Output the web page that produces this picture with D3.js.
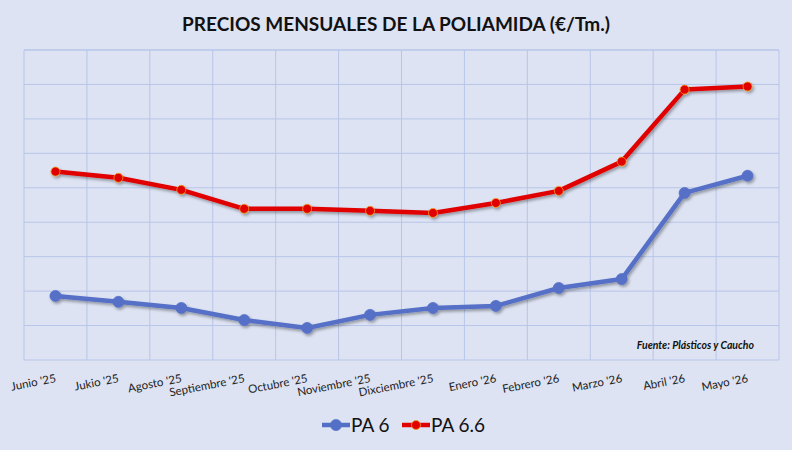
<!DOCTYPE html>
<html><head><meta charset="utf-8">
<script src="https://cdn.jsdelivr.net/npm/d3@7"></script>
<style>body{margin:0;background:#dde3f3;}svg{display:block;font-family:Lato,"Open Sans",sans-serif;}</style>
</head><body><svg id="chart"></svg>
<script>
const months = ["Junio '25","Jukio '25","Agosto '25","Septiembre '25","Octubre '25","Noviembre '25","Dixciembre '25","Enero '26","Febrero '26","Marzo '26","Abril '26","Mayo '26"];
const pa6 = [1.86,1.69,1.51,1.16,0.93,1.31,1.51,1.57,2.09,2.35,4.85,5.35];
const pa66 = [5.47,5.29,4.94,4.39,4.39,4.33,4.27,4.56,4.91,5.76,7.85,7.94];
const yTicks = d3.range(0, 10);

const w = 792, h = 450;
const svg = d3.select("#chart").attr("width", w).attr("height", h);
svg.append("rect").attr("width", w).attr("height", h).attr("fill", "#dde3f3");

const defs = svg.append("defs");
const f = defs.append("filter").attr("id", "sh").attr("x", "-10%").attr("y", "-10%").attr("width", "130%").attr("height", "130%");
f.append("feDropShadow").attr("dx", 1.5).attr("dy", 2).attr("stdDeviation", 1.5).attr("flood-color", "#000").attr("flood-opacity", 0.35);

const x = d3.scaleBand().domain(months).range([24, 779]);
const y = d3.scaleLinear().domain([0, 9]).range([360, 50]);

svg.append("text").attr("x", 396).attr("y", 31).attr("text-anchor", "middle")
  .attr("font-size", 19).attr("font-weight", "bold").attr("fill", "#111")
  .text("PRECIOS MENSUALES DE LA POLIAMIDA (€/Tm.)");

const grid = svg.append("g").attr("stroke", "#b7c5e8").attr("stroke-width", 1);
grid.selectAll(".hy").data(yTicks.concat([9])).enter().append("line")
  .attr("x1", 24).attr("x2", 779).attr("y1", d => y(d)).attr("y2", d => y(d));
const edges = months.map(m => x(m)).concat([779]);
grid.selectAll(".vx").data(edges).enter().append("line")
  .attr("x1", d => d).attr("x2", d => d).attr("y1", 50).attr("y2", 360);

const xAxis = svg.append("g");
months.forEach(m => {
  const cx = x(m) + x.bandwidth() / 2 + 1;
  xAxis.append("text").attr("transform", `translate(${cx},382) rotate(-11)`)
    .attr("text-anchor", "end").attr("font-size", 11.5).attr("fill", "#222").text(m);
});

const line = d3.line().x((d, i) => x(months[i]) + x.bandwidth() / 2).y(d => y(d));
const series = [{v: pa6, c: "#5470c6", r: 5.5, fill: "#5470c6", stroke: "#5470c6"},
                {v: pa66, c: "#e00000", r: 4.5, fill: "#e00000", stroke: "#f39a1e"}];
series.forEach(s => {
  const g = svg.append("g").attr("filter", "url(#sh)");
  g.append("path").datum(s.v).attr("d", line).attr("fill", "none")
    .attr("stroke", s.c).attr("stroke-width", 4.5).attr("stroke-linejoin", "round");
  g.selectAll("circle").data(s.v).enter().append("circle")
    .attr("cx", (d, i) => x(months[i]) + x.bandwidth() / 2).attr("cy", d => y(d))
    .attr("r", s.r).attr("fill", s.fill).attr("stroke", s.stroke).attr("stroke-width", 0.8);
});

svg.append("text").attr("x", 754).attr("y", 349).attr("text-anchor", "end")
  .attr("font-size", 10.5).attr("font-weight", "bold").attr("font-style", "italic").attr("fill", "#111")
  .text("Fuente: Plásticos y Caucho");

const leg = [{n: "PA 6", s: series[0], x: 322}, {n: "PA 6.6", s: series[1], x: 402}];
leg.forEach(l => {
  svg.append("line").attr("x1", l.x).attr("x2", l.x + 28).attr("y1", 425).attr("y2", 425)
    .attr("stroke", l.s.c).attr("stroke-width", 4.5);
  svg.append("circle").attr("cx", l.x + 14).attr("cy", 425).attr("r", l.s.r)
    .attr("fill", l.s.fill).attr("stroke", l.s.stroke).attr("stroke-width", 0.8);
  svg.append("text").attr("x", l.x + 29).attr("y", 432).attr("font-size", 19).attr("fill", "#111").text(l.n);
});
</script></body></html>
